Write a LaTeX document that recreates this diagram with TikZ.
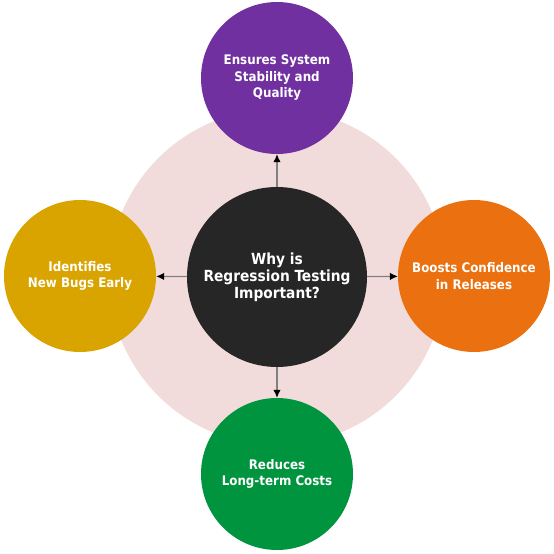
\documentclass[tikz,border=0pt]{standalone}
\usepackage{fontspec}
\setmainfont{DejaVu Sans Condensed}
\usetikzlibrary{arrows.meta}
\definecolor{bgpink}{HTML}{F2DCDB}
\definecolor{cpurple}{HTML}{7030A0}
\definecolor{cyellow}{HTML}{D9A300}
\definecolor{corange}{HTML}{EB700F}
\definecolor{cgreen}{HTML}{00943E}
\definecolor{cdark}{HTML}{262626}
\tikzset{
  bub/.style={circle, minimum size=152pt, inner sep=0pt, text=white, align=center,
    font=\bfseries\fontsize{13.2}{16.5}\selectfont},
  hub/.style={circle, minimum size=180pt, inner sep=0pt, fill=cdark, text=white, align=center,
    font=\bfseries\fontsize{15.3}{17}\selectfont},
  conn/.style={draw=gray, line width=1.2pt, -{Latex[length=8pt,width=7.5pt,black]}}
}
\begin{document}
\begin{tikzpicture}[x=1pt,y=-1pt]
\useasboundingbox (0,0) rectangle (554,554);
\fill[bgpink] (277,277) circle (168);
\node[hub] (c) at (277,277) {Why is\\Regression Testing\\Important?};
\node[bub, fill=cpurple] (t) at (277,78) {Ensures System\\Stability and\\Quality};
\node[bub, fill=cyellow] (l) at (80,276) {Identifies\\New Bugs Early};
\node[bub, fill=corange] (r) at (474,276) {Boosts Confidence\\in Releases};
\node[bub, fill=cgreen] (b) at (277,474) {Reduces\\Long-term Costs};
\draw[conn] (c) -- (t);
\draw[conn] (c) -- (l);
\draw[conn] (c) -- (r);
\draw[conn] (c) -- (b);
\end{tikzpicture}
\end{document}
